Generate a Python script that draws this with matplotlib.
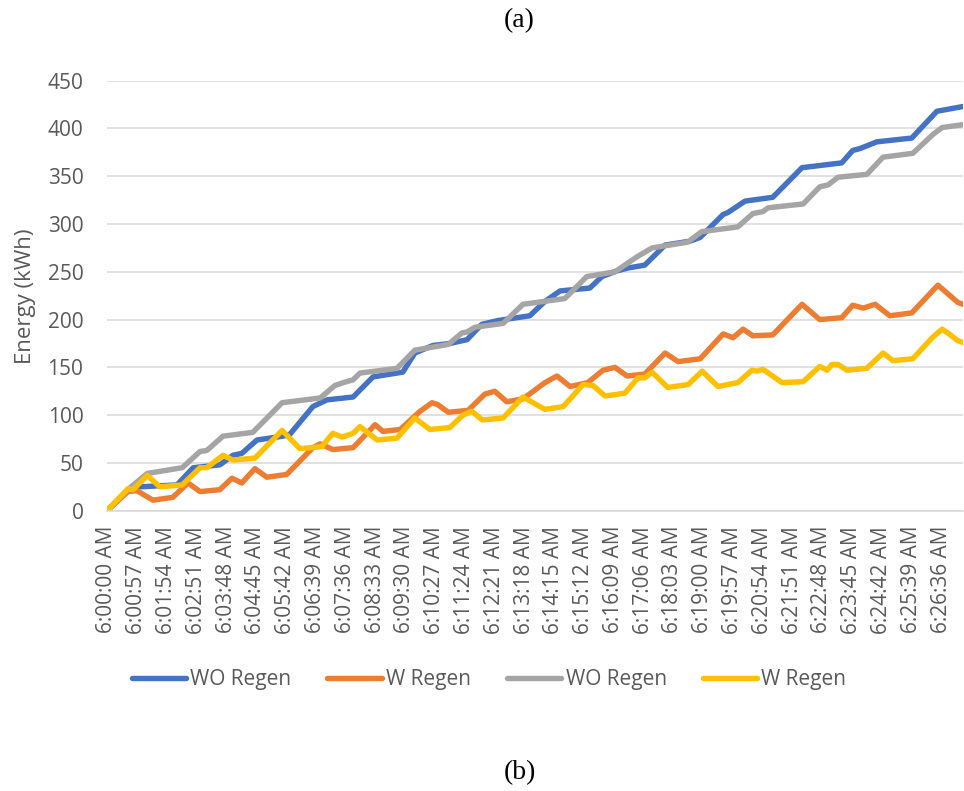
import matplotlib
matplotlib.use("Agg")
import matplotlib.pyplot as plt

# seconds after 6:00:00 AM, energy in kWh
t_wo1 = [0, 40, 63, 134, 165, 216, 241, 258, 287, 337, 350, 394, 421, 471, 509, 566, 589, 624, 656,
         689, 717, 748, 809, 838, 867, 924, 947, 976, 997, 1029, 1068, 1115, 1135, 1179, 1188, 1221,
         1274, 1330, 1406, 1427, 1441, 1473, 1540, 1588, 1638]
e_wo1 = [0, 21, 25, 27, 45, 48, 58, 60, 74, 78, 80, 109, 116, 119, 140, 145, 165, 173, 175,
         179, 195, 199, 204, 219, 230, 233, 245, 251, 254, 257, 278, 282, 286, 310, 312, 324,
         328, 359, 364, 377, 379, 386, 390, 418, 423]

t_w1 = [0, 40, 57, 88, 126, 155, 178, 216, 239, 258, 283, 306, 344, 394, 408, 432, 471, 513, 528,
        561, 599, 622, 633, 653, 691, 723, 742, 765, 796, 838, 861, 886, 920, 949, 972, 995, 1029,
        1068, 1093, 1135, 1179, 1198, 1217, 1236, 1274, 1330, 1364, 1406, 1427, 1447, 1470, 1498,
        1540, 1590, 1628, 1638]
e_w1 = [0, 20, 21, 11, 14, 29, 20, 22, 34, 29, 44, 35, 38, 66, 70, 64, 66, 90, 83,
        85, 104, 113, 111, 103, 105, 122, 125, 114, 117, 134, 141, 130, 134, 147, 150, 141, 143,
        165, 156, 159, 185, 181, 190, 183, 184, 216, 200, 202, 215, 212, 216, 204,
        207, 236, 218, 216]

t_wo2 = [0, 44, 77, 144, 178, 191, 222, 279, 335, 408, 436, 452, 471, 484, 555, 589, 653, 679, 689,
         704, 758, 796, 876, 918, 972, 1015, 1043, 1111, 1138, 1207, 1236, 1255, 1265, 1332, 1364,
         1380, 1399, 1454, 1485, 1542, 1581, 1598, 1638]
e_wo2 = [0, 24, 39, 45, 62, 63, 78, 82, 113, 118, 131, 134, 137, 144, 149, 168, 174, 186, 187,
         192, 196, 216, 222, 245, 250, 266, 275, 281, 292, 297, 311, 313, 317, 321, 339,
         341, 349, 352, 370, 374, 394, 401, 404]

t_w2 = [0, 40, 50, 77, 101, 144, 178, 191, 222, 241, 283, 335, 369, 411, 432, 450, 471, 484, 517,
        555, 589, 618, 656, 681, 698, 718, 758, 796, 838, 873, 911, 930, 953, 991, 1016, 1029,
        1043, 1073, 1112, 1139, 1169, 1207, 1234, 1244, 1255, 1292, 1332, 1364, 1378, 1387, 1399,
        1416, 1454, 1485, 1504, 1542, 1579, 1598, 1609, 1628, 1638]
e_w2 = [0, 23, 22, 37, 25, 27, 45, 45, 58, 53, 55, 84, 65, 67, 81, 77, 81, 88, 74,
        76, 97, 85, 87, 100, 104, 95, 97, 119, 106, 109, 132, 131, 120, 123, 139, 139,
        145, 129, 132, 146, 130, 134, 147, 146, 148, 134, 135, 151, 147, 153, 153,
        147, 149, 165, 157, 159, 181, 190, 186, 178, 176]

tick_secs = [0, 57, 114, 171, 228, 285, 342, 399, 456, 513, 570, 627, 684, 741, 798, 855, 912,
             969, 1026, 1083, 1140, 1197, 1254, 1311, 1368, 1425, 1482, 1539, 1596]
tick_labels = ["6:00:00 AM", "6:00:57 AM", "6:01:54 AM", "6:02:51 AM", "6:03:48 AM", "6:04:45 AM",
               "6:05:42 AM", "6:06:39 AM", "6:07:36 AM", "6:08:33 AM", "6:09:30 AM", "6:10:27 AM",
               "6:11:24 AM", "6:12:21 AM", "6:13:18 AM", "6:14:15 AM", "6:15:12 AM", "6:16:09 AM",
               "6:17:06 AM", "6:18:03 AM", "6:19:00 AM", "6:19:57 AM", "6:20:54 AM", "6:21:51 AM",
               "6:22:48 AM", "6:23:45 AM", "6:24:42 AM", "6:25:39 AM", "6:26:36 AM"]

plt.rcParams["font.family"] = ["Open Sans", "DejaVu Sans"]
txt = "#595959"

fig = plt.figure(figsize=(9.64, 7.91), dpi=100)
ax = fig.add_axes([107 / 964, 1 - 510.7 / 791, 856 / 964, (510.7 - 80.7) / 791])

series = [
    (t_wo1, e_wo1, "#4472C4", "WO Regen"),
    (t_w1, e_w1, "#ED7D31", "W Regen"),
    (t_wo2, e_wo2, "#A5A5A5", "WO Regen"),
    (t_w2, e_w2, "#FFC000", "W Regen"),
]
for t, e, c, lab in series:
    ax.plot(t, e, color=c, lw=3.9, label=lab, solid_joinstyle="round", solid_capstyle="round")

ax.set_xlim(0, 1638)
ax.set_ylim(0, 450)
ax.set_yticks(range(0, 451, 50))
ax.yaxis.grid(True, color="#D9D9D9", lw=1.1)
ax.set_axisbelow(True)
for s in ["top", "right", "left"]:
    ax.spines[s].set_visible(False)
ax.spines["bottom"].set_color("#D9D9D9")
ax.spines["bottom"].set_linewidth(1.1)

ax.set_xticks(tick_secs)
ax.set_xticklabels(tick_labels, rotation=90, ha="center", va="top")
ax.tick_params(axis="x", length=0, pad=11, labelsize=15, labelcolor=txt)
ax.tick_params(axis="y", length=0, pad=17, labelsize=15, labelcolor=txt)

fig.text(25 / 964, 1 - 296 / 791, "Energy (kWh)", rotation=90, ha="center", va="center",
         fontsize=16, color=txt)

leg = fig.legend(loc="center", bbox_to_anchor=(489 / 964, 1 - 680 / 791), ncol=4, frameon=False,
                 fontsize=15, handlelength=2.6, handletextpad=0.2, columnspacing=1.75, labelcolor=txt)

fig.text(519 / 964, 1 - 21 / 791, "(a)", ha="center", va="center", fontsize=20,
         family="Liberation Serif", color="black")
fig.text(520 / 964, 1 - 773 / 791, "(b)", ha="center", va="center", fontsize=20,
         family="Liberation Serif", color="black")

fig.savefig("out.png", dpi=100, facecolor="white")
